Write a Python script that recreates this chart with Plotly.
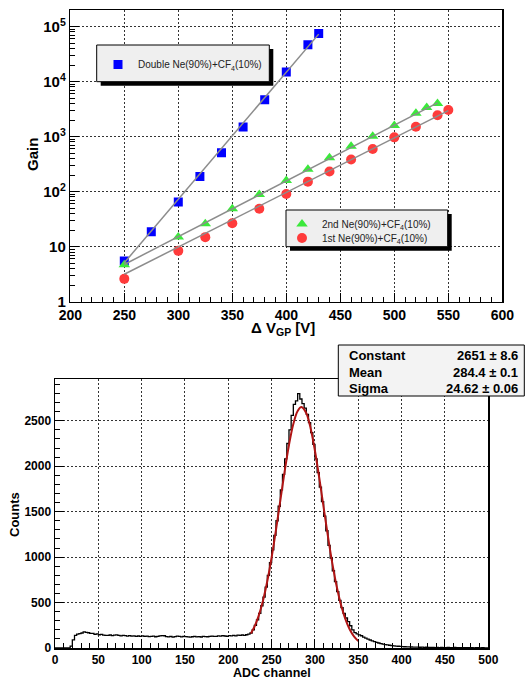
import plotly.graph_objects as go

# ---------------- data: top panel (gain curves) ----------------
double_v = [250, 275, 300, 320, 340, 360, 380, 400, 420, 430]
double_gain = [5.5, 18.6, 65, 188, 512, 1500, 4700, 15000, 47000, 75000]

second_v = [250, 300, 325, 350, 375, 400, 420, 440, 460, 480, 500, 520, 530, 540]
second_gain = [4.7, 15, 26, 48.7, 88.5, 159, 255, 415, 667, 1013, 1600, 2650, 3370, 4000]

first_v = [250, 300, 325, 350, 375, 400, 420, 440, 460, 480, 500, 520, 540, 550]
first_gain = [2.6, 8.4, 14.9, 26.7, 49, 91, 152, 232, 383, 597, 970, 1515, 2450, 3050]

# exponential fit lines (end points)
double_fit_v = [250, 430]
double_fit_gain = [5.1, 73000]
second_fit_v = [250, 540]
second_fit_gain = [4.75, 4100]
first_fit_v = [250, 550]
first_fit_gain = [3.15, 2970]

gain_tickvals = [1, 10, 100, 1000, 10000, 100000]
gain_ticktext = ["1", "10", "10<sup>2</sup>", "10<sup>3</sup>", "10<sup>4</sup>", "10<sup>5</sup>"]

# ---------------- data: bottom panel (ADC spectrum, 2.5-channel bins from 0 to 500) ----------------
bin_width = 2.5
counts = [0, 0, 0, 0, 0, 0, 0, 20, 90, 140,
          152, 158, 165, 178, 172, 168, 160, 162, 150, 155,
          146, 150, 142, 140, 138, 143, 136, 141, 145, 138,
          134, 139, 136, 131, 137, 130, 134, 129, 132, 128,
          133, 127, 130, 125, 129, 131, 124, 128, 133, 137,
          135, 126, 122, 127, 120, 125, 131, 127, 123, 128,
          126, 122, 119, 124, 127, 123, 126, 121, 129, 125,
          124, 128, 131, 127, 129, 133, 130, 136, 132, 129,
          137, 134, 138, 133, 141, 139, 143, 138, 146, 152,
          165, 200, 250, 310, 380, 465, 560, 670, 800, 940,
          1080, 1240, 1400, 1560, 1740, 1910, 2080, 2250, 2400, 2560,
          2680, 2720, 2800, 2740, 2690, 2640, 2570, 2480, 2370, 2240,
          2080, 1930, 1770, 1610, 1450, 1290, 1130, 990, 850, 730,
          620, 525, 445, 380, 330, 290, 245, 200, 170, 155,
          145, 135, 120, 108, 97, 88, 78, 70, 62, 55,
          49, 43, 38, 34, 30, 27, 24, 21, 19, 17,
          16, 14, 13, 12, 11, 10, 10, 9, 8, 9,
          7, 8, 6, 7, 6, 5, 7, 5, 6, 4,
          5, 6, 4, 5, 7, 4, 5, 3, 4, 5,
          3, 4, 3, 2, 4, 3, 2, 3, 2, 2]

# Gaussian fit curve
fit_ch = [226, 230, 235, 240, 245, 250, 255, 260, 265, 270, 275, 280, 284.4,
          290, 295, 300, 305, 310, 315, 320, 325, 330, 335, 340, 345, 350]
fit_counts = [160, 231, 354, 521, 737, 999, 1300, 1622, 1944, 2234, 2465, 2609, 2651,
              2583, 2416, 2168, 1869, 1544, 1225, 932, 680, 477, 321, 207, 128, 76]

stat_names = ["Constant", "Mean", "Sigma"]
stat_values = ["2651 \u00b1 8.6", "284.4 \u00b1 0.1", "24.62 \u00b1 0.06"]

# ---------------- figure ----------------
W, H = 529, 680
def px(x):
    return x / W
def py(y):
    return 1 - y / H

FONT = "Liberation Sans, Arial, Helvetica, sans-serif"
GRID = dict(showgrid=True, gridcolor="#333333", griddash="2px,2px", gridwidth=1)

fig = go.Figure()

# top panel markers
fig.add_trace(go.Scatter(x=double_v, y=double_gain, mode="markers", xaxis="x", yaxis="y",
                         marker=dict(symbol="square", size=9, color="#0000ff"),
                         name="Double Ne(90%)+CF<sub>4</sub>(10%)", legend="legend"))
fig.add_trace(go.Scatter(x=second_v, y=second_gain, mode="markers", xaxis="x", yaxis="y",
                         marker=dict(symbol="triangle-up", size=10, color="#3be83b"),
                         name="2nd Ne(90%)+CF<sub>4</sub>(10%)", legend="legend2"))
fig.add_trace(go.Scatter(x=first_v, y=first_gain, mode="markers", xaxis="x", yaxis="y",
                         marker=dict(symbol="circle", size=10, color="#ff3b3b"),
                         name="1st Ne(90%)+CF<sub>4</sub>(10%)", legend="legend3"))
for fv, fg in [(double_fit_v, double_fit_gain), (second_fit_v, second_fit_gain),
               (first_fit_v, first_fit_gain)]:
    fig.add_trace(go.Scatter(x=fv, y=fg, mode="lines", xaxis="x", yaxis="y",
                             line=dict(color="#8c8c8c", width=1.5), showlegend=False))

# bottom panel histogram (step)
edges = [i * bin_width for i in range(len(counts) + 1)]
fig.add_trace(go.Scatter(x=edges, y=counts + [counts[-1]], mode="lines", xaxis="x2", yaxis="y2",
                         line=dict(color="black", width=1.3, shape="hv"), showlegend=False))
fig.add_trace(go.Scatter(x=fit_ch, y=fit_counts, mode="lines", xaxis="x2", yaxis="y2",
                         line=dict(color="#b01515", width=2, shape="spline"), showlegend=False))

axis_common = dict(showline=True, linecolor="black", linewidth=1.5, mirror=True, automargin=False,
                   ticks="inside", ticklen=9, tickwidth=1, tickcolor="black", zeroline=False)

legend_style = dict(xanchor="left", yanchor="top", bgcolor="rgba(0,0,0,0)", borderwidth=0,
                    font=dict(size=10, family=FONT, color="#222222"))

fig.update_layout(
    width=W, height=H, autosize=False,
    margin=dict(l=0, r=0, t=0, b=0, autoexpand=False),
    paper_bgcolor="white", plot_bgcolor="white",
    font=dict(family=FONT, color="black"),
    xaxis=dict(domain=[px(70.3), px(502.3)], range=[200, 600], anchor="y",
               tickvals=[200, 250, 300, 350, 400, 450, 500, 550, 600],
               tickfont=dict(size=14, family=FONT, weight="bold"),
               minor=dict(ticks="inside", ticklen=5, dtick=10, tickcolor="black"),
               **GRID, **axis_common),
    yaxis=dict(domain=[py(301.7), py(10.1)], type="log", range=[0, 5.3], anchor="x",
               tickvals=gain_tickvals, ticktext=gain_ticktext,
               tickfont=dict(size=15, family=FONT, weight="bold"),
               minor=dict(ticks="inside", ticklen=5, dtick="D1", tickcolor="black"),
               **GRID, **axis_common),
    xaxis2=dict(domain=[px(55), px(488.3)], range=[0, 500], anchor="y2",
                tickvals=list(range(0, 501, 50)),
                tickfont=dict(size=12, family=FONT, weight="bold"),
                minor=dict(ticks="inside", ticklen=5, dtick=10, tickcolor="black"),
                **GRID, **axis_common),
    yaxis2=dict(domain=[py(648), py(379)], range=[0, 2960], anchor="x2",
                tickvals=[0, 500, 1000, 1500, 2000, 2500],
                tickfont=dict(size=12, family=FONT, weight="bold"),
                minor=dict(ticks="inside", ticklen=5, dtick=100, tickcolor="black"),
                **GRID, **axis_common),
    legend=dict(x=px(98), y=py(50), **legend_style),
    legend2=dict(x=px(282), y=py(209.5), **legend_style),
    legend3=dict(x=px(282), y=py(223.5), **legend_style),
)

def box(x0, y0, x1, y1, fill, line_w):
    return dict(type="rect", xref="paper", yref="paper", x0=px(x0), x1=px(x1), y0=py(y1), y1=py(y0),
                fillcolor=fill, line=dict(color="black", width=line_w), layer="above")

shapes = [
    # legend 1: shadow + box
    box(100.7, 49, 273.3, 85.7, "black", 0),
    box(96.7, 45, 269.3, 81.7, "#efefef", 1),
    # legend 2: shadow + box
    box(290, 214, 451.7, 250.7, "black", 0),
    box(286, 210, 447.7, 246.7, "#efefef", 1),
    # stats box
    box(338.3, 345, 524.3, 396, "#f3f3f3", 1),
]
fig.update_layout(shapes=shapes)

def text_ann(text, x, y, size, angle=0, xanchor="center"):
    return dict(text=text, x=px(x), y=py(y), xref="paper", yref="paper", textangle=angle,
                xanchor=xanchor, yanchor="middle", showarrow=False,
                font=dict(size=size, family=FONT, color="black"))

ann = [
    text_ann("<b>Gain</b>", 33, 155, 15, -90),
    text_ann("<b>\u0394 V<sub>GP</sub> [V]</b>", 283, 328, 15),
    text_ann("<b>Counts</b>", 14, 515, 13, -90),
    text_ann("<b>ADC channel</b>", 272, 672.5, 12.5),
]
row_y = [355, 372, 388.5]
for name, val, ry in zip(stat_names, stat_values, row_y):
    ann.append(text_ann("<b>" + name + "</b>", 347, ry, 13, xanchor="left"))
    ann.append(text_ann("<b>" + val + "</b>", 519.5, ry, 13, xanchor="right"))
fig.update_layout(annotations=ann)

fig.write_html("out.html", config={"displayModeBar": False, "staticPlot": True},
               post_script="document.body.style.margin='0px';document.body.style.overflow='hidden';")
